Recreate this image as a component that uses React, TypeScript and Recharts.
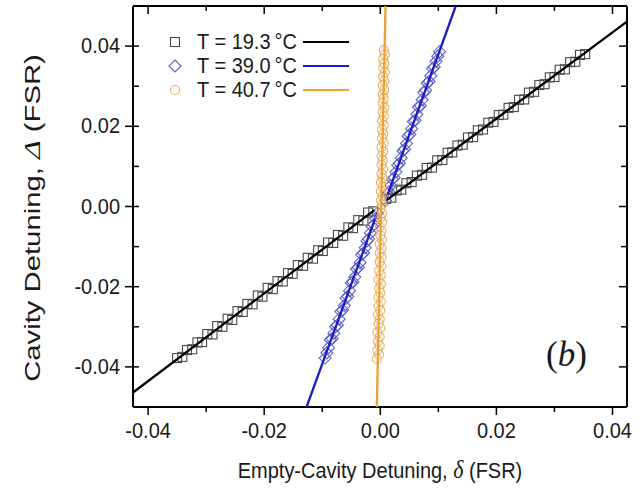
import { ScatterChart, Scatter, XAxis, YAxis } from 'recharts'

const W = 644
const H = 489
const LEFT = 133
const RIGHT = 627
const TOP = 6
const BOTTOM = 407

const sans = '"Liberation Sans", Arial, sans-serif'
const serif = '"Liberation Serif", "Times New Roman", serif'

const xTicks = [-0.04, -0.03, -0.02, -0.01, 0, 0.01, 0.02, 0.03, 0.04]
const yTicks = [-0.04, -0.03, -0.02, -0.01, 0, 0.01, 0.02, 0.03, 0.04]

const legendLabels = ['T = 19.3\u2009°C', 'T = 39.0\u2009°C', 'T = 40.7\u2009°C']

// T = 19.3 °C, squares
const blackLeftX = [
  -0.035, -0.0341, -0.0333, -0.0324, -0.0315, -0.0307, -0.0298, -0.0289, -0.0281, -0.0272,
  -0.0263, -0.0255, -0.0246, -0.0237, -0.0229, -0.022, -0.0211, -0.0203, -0.0194, -0.0185,
  -0.0177, -0.0168, -0.0159, -0.0151, -0.0142, -0.0133, -0.0125, -0.0116, -0.0107, -0.0099,
  -0.009, -0.0081, -0.0073, -0.0064, -0.0055, -0.0047, -0.0038, -0.0029, -0.0021, -0.0012,
]
const blackLeftY = [
  -0.0378, -0.0375, -0.0358, -0.0356, -0.0339, -0.0338, -0.0318, -0.0319, -0.0298, -0.03,
  -0.028, -0.0283, -0.0261, -0.0263, -0.0243, -0.0244, -0.0222, -0.0225, -0.0203, -0.0206,
  -0.0186, -0.0187, -0.0166, -0.0168, -0.0146, -0.0148, -0.0128, -0.013, -0.0109, -0.0111,
  -0.009, -0.0091, -0.0071, -0.0073, -0.0052, -0.0054, -0.0034, -0.0035, -0.0015, -0.0012,
]
const blackRightX = [
  0.001, 0.0019, 0.0028, 0.0036, 0.0045, 0.0054, 0.0063, 0.0072, 0.008, 0.0089,
  0.0098, 0.0107, 0.0116, 0.0124, 0.0133, 0.0142, 0.0151, 0.016, 0.0168, 0.0177,
  0.0186, 0.0195, 0.0204, 0.0212, 0.0221, 0.023, 0.0239, 0.0248, 0.0256, 0.0265,
  0.0274, 0.0283, 0.0292, 0.03, 0.0309, 0.0318, 0.0327, 0.0336, 0.0344, 0.0353,
]
const blackRightY = [
  0.0019, 0.0022, 0.004, 0.0042, 0.0058, 0.0061, 0.0077, 0.0079, 0.0096, 0.0097,
  0.0115, 0.0116, 0.0134, 0.0135, 0.0152, 0.0154, 0.0172, 0.0173, 0.019, 0.0192,
  0.0209, 0.0211, 0.0228, 0.0229, 0.0246, 0.0248, 0.0266, 0.0267, 0.0284, 0.0286,
  0.0303, 0.0305, 0.0322, 0.0323, 0.0341, 0.0342, 0.036, 0.0361, 0.0378, 0.038,
]

// T = 39.0 °C, diamonds
const blueLeftX = [
  -0.0095, -0.0092, -0.0089, -0.0086, -0.0083, -0.008, -0.0077, -0.0074, -0.0071, -0.0068,
  -0.0065, -0.0062, -0.0059, -0.0056, -0.0053, -0.005, -0.0047, -0.0044, -0.0041, -0.0038,
  -0.0035, -0.0032, -0.0029, -0.0026, -0.0023, -0.002, -0.0017, -0.0014, -0.0011, -0.0008,
  -0.0005,
]
const blueLeftY = [
  -0.0378, -0.0365, -0.0352, -0.0332, -0.033, -0.0316, -0.03, -0.0296, -0.0281, -0.0262,
  -0.0258, -0.0247, -0.0229, -0.0224, -0.021, -0.019, -0.0188, -0.0176, -0.0156, -0.0152,
  -0.014, -0.012, -0.0116, -0.0103, -0.0086, -0.0081, -0.0066, -0.005, -0.0045, -0.003,
  -0.0016,
]
const blueRightX = [
  0.0009, 0.0012, 0.0015, 0.0018, 0.0021, 0.0024, 0.0027, 0.003, 0.0033, 0.0036,
  0.0039, 0.0042, 0.0045, 0.0048, 0.0051, 0.0054, 0.0057, 0.006, 0.0063, 0.0066,
  0.0069, 0.0072, 0.0075, 0.0078, 0.0081, 0.0084, 0.0087, 0.009, 0.0093, 0.0096,
  0.0099, 0.0102,
]
const blueRightY = [
  0.0015, 0.0031, 0.0036, 0.0052, 0.0068, 0.0072, 0.0086, 0.0103, 0.0108, 0.0121,
  0.0139, 0.0143, 0.0157, 0.0176, 0.018, 0.0194, 0.0212, 0.0215, 0.023, 0.0248,
  0.0251, 0.0266, 0.0284, 0.029, 0.0308, 0.0312, 0.0326, 0.0344, 0.0348, 0.0362,
  0.0375, 0.0386,
]

// T = 40.7 °C, circles
const orangeX = [
  -0.0006, -0.0002, -0.0005, -0.0001, -0.0004, -0.0001, -0.0005, 0.0, -0.0003, -0.0001,
  -0.0004, 0.0, -0.0003, 0.0001, -0.0003, 0.0, -0.0002, 0.0001, -0.0003, 0.0001,
  -0.0002, 0.0002, -0.0001, 0.0002, -0.0001, 0.0002, -0.0001, 0.0003, 0.0, 0.0002,
  -0.0001, 0.0003, 0.0, 0.0003, 0.0, 0.0003, 0.0001, 0.0004, 0.0001, 0.0004,
  0.0001, 0.0004, 0.0002, 0.0005, 0.0002, 0.0004, 0.0002, 0.0005, 0.0002, 0.0006,
  0.0003, 0.0005, 0.0003, 0.0006, 0.0003, 0.0006, 0.0004, 0.0007, 0.0004, 0.0006,
  0.0004, 0.0007, 0.0004, 0.0007, 0.0005, 0.0008, 0.0005, 0.0007, 0.0005, 0.0008,
  0.0006,
]
const orangeY = [
  -0.038, -0.0369, -0.0358, -0.0347, -0.0336, -0.0325, -0.0314, -0.0303, -0.0292, -0.0281,
  -0.027, -0.0259, -0.0248, -0.0237, -0.0226, -0.0215, -0.0204, -0.0193, -0.0182, -0.0171,
  -0.016, -0.0149, -0.0138, -0.0127, -0.0116, -0.0105, -0.0094, -0.0083, -0.0072, -0.0061,
  -0.005, -0.0039, -0.0028, -0.0017, -0.0006, 0.0005, 0.0016, 0.0027, 0.0038, 0.0049,
  0.006, 0.0071, 0.0082, 0.0093, 0.0104, 0.0115, 0.0126, 0.0137, 0.0148, 0.0159,
  0.017, 0.0181, 0.0192, 0.0203, 0.0214, 0.0225, 0.0236, 0.0247, 0.0258, 0.0269,
  0.028, 0.0291, 0.0302, 0.0313, 0.0324, 0.0335, 0.0346, 0.0357, 0.0368, 0.0379,
  0.039,
]

// linear fits, end points of each branch
const blackFitLeftX = [-0.0426, -0.001]
const blackFitLeftY = [-0.0464, -0.0009]
const blackFitRightX = [0.0011, 0.0425]
const blackFitRightY = [0.0016, 0.0461]
const blueFitLeftX = [-0.0127, -0.0005]
const blueFitLeftY = [-0.05, -0.0015]
const blueFitRightX = [0.0009, 0.013]
const blueFitRightY = [0.0015, 0.05]
const orangeFitX = [-0.0006, 0.0009]
const orangeFitY = [-0.05, 0.05]

const BLACK = '#000000'
const BLUE = '#1c1cc4'
const ORANGE = '#f0a033'
const SQUARE = '#4a4a4a'
const DIAMOND = '#5f5fc8'
const CIRCLE = '#e8b062'

const toPoints = (xs: number[], ys: number[]) => xs.map((x, i) => ({ x, y: ys[i] }))

const isMajor = (v: number) => Math.round(v * 100) % 2 === 0
const fmt = (v: number) => v.toFixed(2)

const BottomTick = (p: any) => {
  const major = isMajor(p.payload.value)
  return (
    <g>
      <line x1={p.x} x2={p.x} y1={BOTTOM} y2={BOTTOM + (major ? 8 : 5)} stroke="#000" strokeWidth={1.5} />
      {major && (
        <text
          transform={`translate(${p.x},${BOTTOM + 31}) scale(1,1.1)`}
          textAnchor="middle"
          fontSize={20}
          fontFamily={sans}
          fill="#1a1a1a"
        >
          {fmt(p.payload.value)}
        </text>
      )}
    </g>
  )
}

const TopTick = (p: any) => {
  const major = isMajor(p.payload.value)
  return <line x1={p.x} x2={p.x} y1={TOP} y2={TOP + (major ? 8 : 5)} stroke="#000" strokeWidth={1.5} />
}

const LeftTick = (p: any) => {
  const major = isMajor(p.payload.value)
  return (
    <g>
      <line x1={major ? LEFT - 8 : LEFT} x2={LEFT + 6} y1={p.y} y2={p.y} stroke="#000" strokeWidth={1.5} />
      {major && (
        <text
          transform={`translate(${LEFT - 13},${p.y + 7}) scale(1,1.1)`}
          textAnchor="end"
          fontSize={20}
          fontFamily={sans}
          fill="#1a1a1a"
        >
          {fmt(p.payload.value)}
        </text>
      )}
    </g>
  )
}

const RightTick = (p: any) => {
  const major = isMajor(p.payload.value)
  return <line x1={RIGHT - (major ? 8 : 6)} x2={RIGHT} y1={p.y} y2={p.y} stroke="#000" strokeWidth={1.5} />
}

const Square = (p: any) => (
  <rect x={p.cx - 4.5} y={p.cy - 4.5} width={9} height={9} fill="none" stroke={SQUARE} strokeWidth={1.1} />
)
const Diamond = (p: any) => (
  <polygon
    points={`${p.cx},${p.cy - 6} ${p.cx + 6},${p.cy} ${p.cx},${p.cy + 6} ${p.cx - 6},${p.cy}`}
    fill="none"
    stroke={DIAMOND}
    strokeWidth={1.1}
  />
)
const Circle = (p: any) => <circle cx={p.cx} cy={p.cy} r={4.5} fill="none" stroke={CIRCLE} strokeWidth={1.1} />
const NoDot = () => <g />

const axisLine = { stroke: '#000', strokeWidth: 2 }
const fitWidth = 2.3

export default function App() {
  const legendRows = [
    { label: legendLabels[0], color: BLACK, marker: 'square' },
    { label: legendLabels[1], color: BLUE, marker: 'diamond' },
    { label: legendLabels[2], color: ORANGE, marker: 'circle' },
  ]
  return (
    <div style={{ position: 'absolute', left: 0, top: 0, width: W, height: H, background: '#fff' }}>
      <ScatterChart width={W} height={H} margin={{ top: 0, right: 0, bottom: 0, left: 0 }}>
        <XAxis
          type="number"
          dataKey="x"
          domain={[-0.0426, 0.0425]}
          allowDataOverflow
          ticks={xTicks}
          interval={0}
          height={H - BOTTOM}
          axisLine={axisLine}
          tickLine={false}
          tick={BottomTick}
        />
        <XAxis
          xAxisId="top"
          orientation="top"
          type="number"
          dataKey="x"
          domain={[-0.0426, 0.0425]}
          allowDataOverflow
          ticks={xTicks}
          interval={0}
          height={TOP}
          axisLine={axisLine}
          tickLine={false}
          tick={TopTick}
        />
        <YAxis
          type="number"
          dataKey="y"
          domain={[-0.05, 0.05]}
          allowDataOverflow
          ticks={yTicks}
          interval={0}
          width={LEFT}
          axisLine={axisLine}
          tickLine={false}
          tick={LeftTick}
        />
        <YAxis
          yAxisId="right"
          orientation="right"
          type="number"
          dataKey="y"
          domain={[-0.05, 0.05]}
          allowDataOverflow
          ticks={yTicks}
          interval={0}
          width={W - RIGHT}
          axisLine={axisLine}
          tickLine={false}
          tick={RightTick}
        />

        <Scatter data={toPoints(blackLeftX, blackLeftY)} shape={Square} isAnimationActive={false} />
        <Scatter data={toPoints(blackRightX, blackRightY)} shape={Square} isAnimationActive={false} />
        <Scatter data={toPoints(blueLeftX, blueLeftY)} shape={Diamond} isAnimationActive={false} />
        <Scatter data={toPoints(blueRightX, blueRightY)} shape={Diamond} isAnimationActive={false} />

        <Scatter data={toPoints(blackFitLeftX, blackFitLeftY)} line={{ stroke: BLACK, strokeWidth: fitWidth }} shape={NoDot} isAnimationActive={false} />
        <Scatter data={toPoints(blackFitRightX, blackFitRightY)} line={{ stroke: BLACK, strokeWidth: fitWidth }} shape={NoDot} isAnimationActive={false} />
        <Scatter data={toPoints(blueFitLeftX, blueFitLeftY)} line={{ stroke: BLUE, strokeWidth: fitWidth }} shape={NoDot} isAnimationActive={false} />
        <Scatter data={toPoints(blueFitRightX, blueFitRightY)} line={{ stroke: BLUE, strokeWidth: fitWidth }} shape={NoDot} isAnimationActive={false} />

        <Scatter data={toPoints(orangeX, orangeY)} shape={Circle} isAnimationActive={false} />
        <Scatter data={toPoints(orangeFitX, orangeFitY)} line={{ stroke: ORANGE, strokeWidth: fitWidth }} shape={NoDot} isAnimationActive={false} />
      </ScatterChart>

      <svg width={W} height={H} style={{ position: 'absolute', left: 0, top: 0, pointerEvents: 'none' }}>
        {legendRows.map((r, i) => {
          const cy = 42 + i * 24
          return (
            <g key={r.label}>
              {r.marker === 'square' && <Square cx={175} cy={cy} />}
              {r.marker === 'diamond' && <Diamond cx={175} cy={cy} />}
              {r.marker === 'circle' && <Circle cx={175} cy={cy} />}
              <text transform={`translate(197,${cy + 7}) scale(1,1.1)`} fontSize={20} fontFamily={sans} fill="#1a1a1a">
                {r.label}
              </text>
              <line x1={303} x2={349} y1={cy} y2={cy} stroke={r.color} strokeWidth={2} />
            </g>
          )
        })}

        <text transform="translate(546,366) scale(1,1.05)" fontSize={35} fontFamily={serif} fill="#1a1a1a">
          (<tspan fontStyle="italic">b</tspan>)
        </text>

        <text transform="translate(380,478) scale(1,1.12)" textAnchor="middle" fontSize={20} fontFamily={sans} fill="#1a1a1a">
          Empty-Cavity Detuning, <tspan fontFamily={serif} fontStyle="italic" fontSize={22}>δ</tspan> (FSR)
        </text>

        <text transform="translate(40,218) rotate(-90) scale(1.33,1)" textAnchor="middle" fontSize={22} fontFamily={sans} fill="#1a1a1a">
          Cavity Detuning, <tspan fontFamily={serif} fontStyle="italic" fontSize={24}>Δ</tspan> (FSR)
        </text>
      </svg>
    </div>
  )
}
